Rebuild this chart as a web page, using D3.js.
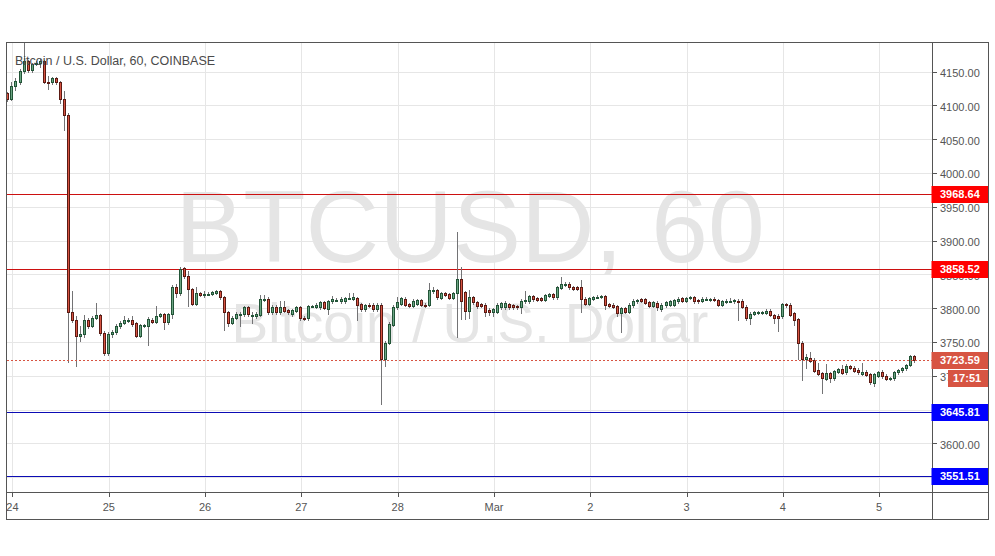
<!DOCTYPE html>
<html><head><meta charset="utf-8">
<script src="https://cdn.jsdelivr.net/npm/d3@7"></script>
<style>body{margin:0;background:#fff;} svg{display:block;font-family:"Liberation Sans",Arial,sans-serif;}</style>
</head><body><svg id="c" width="995" height="556"></svg>
<script>
// ---------- data ----------
const title = "Bitcoin / U.S. Dollar, 60, COINBASE";
const watermarkSymbol = "BTCUSD, 60";
const watermarkName = "Bitcoin / U.S. Dollar";
const firstBar = "2019-02-23T23:00:00Z";   // hourly bars
const opens = [4118,4110,4129,4134,4151,4165,4152,4161,4162,4165,
4135,4134,4140,4134,4109,4086,3795,3783,3759,3761,
3782,3774,3786,3790,3763,3734,3761,3764,3774,3778,
3781,3782,3778,3759,3774,3774,3783,3780,3789,3791,
3779,3791,3831,3822,3859,3847,3828,3806,3822,3821,
3821,3821,3823,3825,3816,3794,3778,3786,3791,3791,
3801,3790,3789,3790,3812,3814,3794,3802,3794,3802,
3797,3791,3796,3801,3786,3785,3803,3802,3801,3809,
3799,3810,3812,3810,3810,3815,3814,3815,3806,3798,
3805,3805,3798,3805,3725,3749,3775,3801,3806,3814,
3806,3803,3806,3812,3805,3805,3827,3827,3815,3822,
3821,3815,3822,3843,3824,3796,3816,3809,3806,3805,
3797,3794,3795,3801,3801,3806,3804,3803,3801,3810,
3810,3818,3815,3815,3812,3818,3821,3816,3830,3835,
3836,3831,3831,3831,3814,3806,3814,3816.5,3817,3818,
3806,3805,3803,3793,3800,3795,3804,3810,3813,3813,
3809,3803,3808,3798,3804,3805,3805,3810,3815,3811,
3815.5,3816,3812,3811,3813.5,3813,3814,3812,3805,3809,
3810.5,3810,3811,3811,3802,3786,3792,3793.5,3794,3793,
3796,3790,3789,3788,3806,3805,3793,3784,3749,3725,
3726,3724,3709,3704,3695,3704,3696,3706,3710,3705,
3714,3712,3709,3703,3706,3702,3689,3700,3705,3700,
3695,3696,3705,3708,3711,3716,3729.5];
const highs = [4120,4134,4140,4153,4192,4167,4163,4166,4168,4167,
4144,4142,4142,4136,4121,4088,3826,3789,3774,3790,
3785,3789,3808,3792,3766,3764,3768,3776,3781,3789,
3785,3789,3780,3777,3777,3787,3786,3803,3793,3793,
3793,3834,3836,3861,3861,3855,3830,3831,3824,3826,
3824,3826,3827,3827,3818,3796,3788,3794,3794,3803,
3803,3794,3795,3819,3820,3816,3804,3804,3810,3810,
3799,3799,3803,3803,3788,3805,3805,3807,3811,3811,
3812,3818,3815,3816,3817,3823,3823,3817,3808,3806,
3807,3807,3807,3807,3752,3779,3804,3816,3817,3816,
3808,3813,3814,3814,3807,3837,3831,3829,3824,3824,
3823,3824,3912,3861,3826,3827,3818,3811,3808,3807,
3800,3800,3807,3809,3810,3808,3806,3805,3813,3826,
3820,3820,3817,3817,3821,3823,3823,3833,3846,3838,
3838,3833,3833,3842,3816,3817,3818,3819,3820,3820,
3808,3807,3805,3802,3802,3807,3813,3814,3815,3815,
3811,3811,3810,3807,3811,3812,3814,3816,3817,3817,
3818,3818,3814,3816,3816,3815,3816,3814,3812,3813,
3815,3813,3813,3813,3804,3794,3796,3796,3796,3798,
3798,3792,3791,3808,3808,3807,3795,3786,3751,3732,
3735,3726,3719,3706,3717,3706,3709,3712,3716,3717,
3716,3714,3711,3719,3708,3704,3704,3707,3709,3702,
3698,3707,3710,3713,3718,3731,3731];
const lows = [4107,4108,4123,4132,4148,4150,4150,4159,4157,4133,
4124,4132,4131,4103,4063,3720,3779,3715,3752,3758,
3771,3772,3784,3760,3730,3731,3758,3762,3771,3776,
3779,3774,3757,3757,3772,3746,3778,3778,3787,3769,
3777,3786,3816,3820,3845,3803,3804,3804,3818,3816,
3819,3819,3821,3814,3767,3773,3776,3784,3773,3789,
3789,3778,3786,3788,3810,3792,3792,3792,3792,3794,
3792,3789,3794,3783,3782,3783,3801,3800,3799,3798,
3791,3808,3810,3808,3808,3813,3812,3782,3796,3796,
3801,3796,3796,3658,3715,3747,3773,3799,3804,3803,
3801,3801,3804,3803,3802,3803,3822,3814,3813,3818,
3813,3813,3757,3784,3784,3786,3806,3800,3801,3789,
3790,3789,3793,3799,3799,3799,3799,3799,3793,3808,
3808,3811,3810,3810,3810,3816,3814,3814,3828,3833,
3829,3827,3827,3794,3804,3804,3812,3815,3815,3798,
3801,3800,3788,3765,3793,3793,3802,3808,3809,3806,
3801,3801,3797,3796,3802,3803,3803,3808,3809,3809,
3814,3808,3808,3809,3812,3811,3810,3803,3803,3807,
3809,3808,3782,3800,3783,3777,3790,3792,3792,3791,
3788,3778,3766,3786,3802,3788,3775,3725,3694,3711,
3720,3705,3701,3675,3693,3690,3694,3704,3702,3703,
3710,3705,3703,3701,3699,3688,3685,3698,3697,3693,
3693,3694,3703,3706,3709,3714,3721];
const closes = [4110,4129,4136,4151,4165,4152,4161,4163,4165,4135,
4134,4140,4134,4109,4086,3795,3783,3759,3762,3782,
3774,3786,3790,3763,3734,3761,3765,3774,3778,3782,
3783,3776,3759,3775,3775,3784,3780,3789,3791,3779,
3791,3831,3822,3858,3847,3828,3806,3822,3820,3821,
3821.5,3824,3825,3816,3794,3778,3786,3791,3791.5,3801,
3791,3790,3792,3814,3814,3794,3802,3794,3802,3796,
3794,3797,3801,3785,3784,3803,3803,3805,3809,3800,
3810,3813,3812.5,3814,3815,3815,3816,3805,3798,3804,
3803,3798,3805,3725,3749,3776,3801,3809,3815,3805,
3803,3811,3812,3805,3804,3827,3827,3816,3822,3820,
3815,3822,3843,3811,3796,3816,3809,3803,3803,3795,
3794,3798,3805,3807,3808,3801,3801,3801,3811,3812,
3818,3813,3812,3812,3819,3821,3816,3831,3836,3836,
3831,3829,3829,3814,3806,3815,3816,3817,3818,3805,
3803,3802,3793,3800,3795,3805,3811,3812,3811,3808,
3803,3809,3801,3805,3809,3810,3812,3814,3811,3815,
3816,3810,3810,3814,3814,3813,3812,3805,3810,3811,
3811,3811.5,3810.5,3802,3786,3792,3794,3794,3794,3796,
3790,3785,3785,3806,3804,3790,3783,3749,3725,3728,
3722,3707,3703,3696,3704,3696,3707,3710,3704,3714,
3712,3707,3705,3706,3701,3690,3702,3705,3699,3695,
3696.5,3705,3708,3711,3716,3729.5,3723.59];
const dayTicks = ["2019-02-24","2019-02-25","2019-02-26","2019-02-27","2019-02-28","2019-03-01","2019-03-02","2019-03-03","2019-03-04","2019-03-05"];
const dayLabels = ["24","25","26","27","28","Mar","2","3","4","5"];
const priceTicks = [3550,3600,3650,3700,3750,3800,3850,3900,3950,4000,4050,4100,4150];
const resistanceLevels = [3968.64, 3858.52];
const supportLevels = [3645.81, 3551.51];
const lastPrice = 3723.59;
const countdown = "17:51";
const timeDomain = ["2019-02-23T22:38:00Z","2019-03-05T13:10:00Z"];
const priceDomain = [3528.0, 4192.2];

// ---------- layout ----------
const L = 7, T = 43, R = 932, B = 492, FR = 988, FB = 519;
const svg = d3.select("#c");
const x = d3.scaleUtc().domain(timeDomain.map(d => new Date(d))).range([L, R]);
const y = d3.scaleLinear().domain(priceDomain).range([B, T]);
const crisp = v => Math.round(v) + 0.5;

const t0 = new Date(firstBar).getTime();
const bars = opens.map((o, i) => ({t: new Date(t0 + i * 3600000), o, h: highs[i], l: lows[i], c: closes[i]}));

const up = "#6ba583", upB = "#225437", dn = "#d75442", dnB = "#5b1a13", wick = "#737375";

svg.append("rect").attr("width", 995).attr("height", 556).attr("fill", "#fff");

const plot = svg.append("g");
plot.append("clipPath").attr("id","clip").append("rect").attr("x",L).attr("y",T).attr("width",R-L).attr("height",B-T);

// grid
const grid = plot.append("g").attr("stroke", "#e6e6e6").attr("stroke-width", 1);
grid.selectAll("line.h").data(priceTicks).join("line").attr("class","h")
  .attr("x1", L).attr("x2", R).attr("y1", d => crisp(y(d))).attr("y2", d => crisp(y(d)));
grid.selectAll("line.v").data(dayTicks).join("line").attr("class","v")
  .attr("y1", T).attr("y2", B).attr("x1", d => crisp(x(new Date(d)))).attr("x2", d => crisp(x(new Date(d))));

// watermark
const wm = plot.append("g").attr("fill", "#e5e5e5").attr("text-anchor", "middle").attr("clip-path","url(#clip)");
wm.append("text").attr("x", 470).attr("y", 262).attr("font-size", 102).text(watermarkSymbol);
wm.append("text").attr("x", 470).attr("y", 342).attr("font-size", 55).text(watermarkName);

// levels
const lv = plot.append("g").attr("stroke-width", 1);
lv.selectAll("line.r").data(resistanceLevels).join("line").attr("class","r").attr("stroke", "#cc1010")
  .attr("x1", L).attr("x2", R).attr("y1", d => crisp(y(d))).attr("y2", d => crisp(y(d)));
lv.selectAll("line.s").data(supportLevels).join("line").attr("class","s").attr("stroke", "#0c0cb4")
  .attr("x1", L).attr("x2", R).attr("y1", d => crisp(y(d))).attr("y2", d => crisp(y(d)));

// candles
const cg = plot.append("g").attr("clip-path","url(#clip)");
const cx = d => Math.round(x(d.t));
cg.selectAll("line.w").data(bars).join("line").attr("class","w")
  .attr("stroke", wick).attr("stroke-width", 1)
  .attr("x1", d => cx(d) - 0.5).attr("x2", d => cx(d) - 0.5)
  .attr("y1", d => Math.round(y(d.h))).attr("y2", d => Math.round(y(d.l)) + 1);
cg.selectAll("rect.b").data(bars).join("rect").attr("class","b")
  .attr("fill", d => d.c >= d.o ? up : dn)
  .attr("stroke", d => d.c >= d.o ? upB : dnB).attr("stroke-width", 1)
  .attr("x", d => cx(d) - 1.5).attr("width", 2)
  .attr("y", d => crisp(y(Math.max(d.o, d.c))))
  .attr("height", d => Math.max(1, Math.round(y(Math.min(d.o, d.c))) - Math.round(y(Math.max(d.o, d.c)))));

// last price dotted line
plot.append("line").attr("stroke", dn).attr("stroke-dasharray", "2,2")
  .attr("x1", L).attr("x2", R).attr("y1", crisp(y(lastPrice))).attr("y2", crisp(y(lastPrice)));

// frame and axes
const fr = svg.append("g").attr("stroke", "#555").attr("fill", "none");
fr.append("rect").attr("x", L - 0.5).attr("y", T - 0.5).attr("width", FR - L + 1).attr("height", FB - T + 1);
fr.append("line").attr("x1", R + 0.5).attr("x2", R + 0.5).attr("y1", T).attr("y2", FB);
fr.append("line").attr("x1", L).attr("x2", FR).attr("y1", B + 0.5).attr("y2", B + 0.5);

// y axis labels
const ya = svg.append("g");
ya.selectAll("line").data(priceTicks).join("line").attr("stroke", "#555")
  .attr("x1", R).attr("x2", R + 5).attr("y1", d => crisp(y(d))).attr("y2", d => crisp(y(d)));
ya.selectAll("text").data(priceTicks).join("text")
  .attr("x", 940).attr("y", d => y(d) + 1.5).attr("dy", "0.36em")
  .attr("font-size", 11).attr("fill", "#555").text(d => d.toFixed(2));

// x axis labels
const xa = svg.append("g");
xa.selectAll("line").data(dayTicks).join("line").attr("stroke", "#555")
  .attr("x1", d => crisp(x(new Date(d)))).attr("x2", d => crisp(x(new Date(d))))
  .attr("y1", B).attr("y2", B + 5);
xa.selectAll("text").data(dayTicks).join("text")
  .attr("x", d => x(new Date(d))).attr("y", 511).attr("text-anchor", "middle")
  .attr("font-size", 11).attr("fill", "#555").text((d, i) => dayLabels[i]);

// price labels
function tag(v, color, txt) {
  const g = svg.append("g");
  g.append("rect").attr("x", R - 0.5).attr("y", Math.round(y(v)) - 8).attr("width", FR - R + 0.5).attr("height", 17).attr("fill", color);
  g.append("text").attr("x", 940).attr("y", y(v)).attr("dy", "0.36em").attr("font-size", 11)
    .attr("font-weight", "bold").attr("fill", "#fff").text(txt);
}
resistanceLevels.forEach(v => tag(v, "#ff0000", v.toFixed(2)));
supportLevels.forEach(v => tag(v, "#0000ff", v.toFixed(2)));
tag(lastPrice, dn, lastPrice.toFixed(2));
const cdY = Math.round(y(lastPrice)) + 10;
svg.append("rect").attr("x", 948).attr("y", cdY).attr("width", FR - 948).attr("height", 17).attr("fill", dn);
svg.append("text").attr("x", 953).attr("y", cdY + 8.5).attr("dy", "0.36em").attr("font-size", 11)
  .attr("font-weight", "bold").attr("fill", "#fff").text(countdown);

// title
svg.append("text").attr("x", 15).attr("y", 65).attr("font-size", 12.5).attr("fill", "#4a4a4a").text(title);
</script></body></html>
